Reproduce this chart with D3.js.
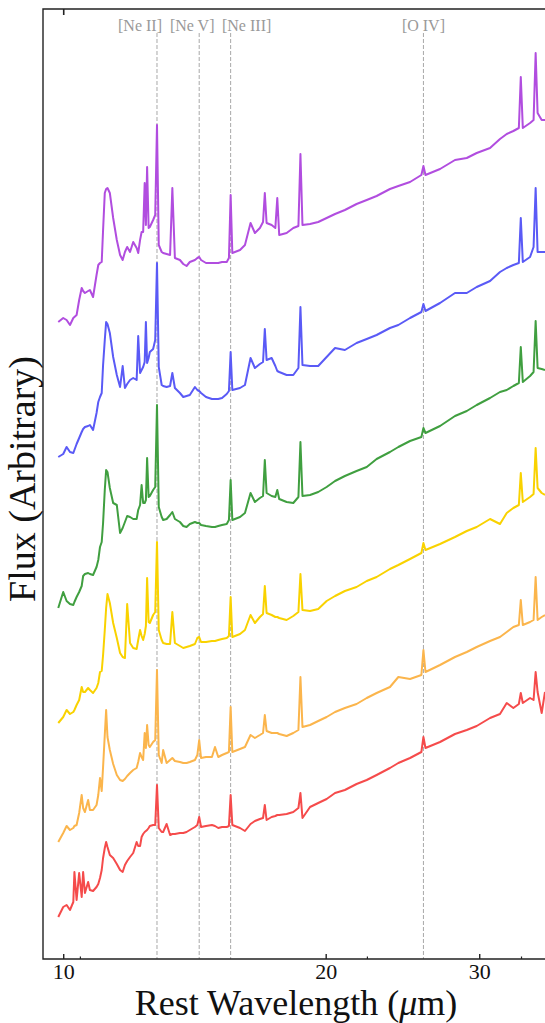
<!DOCTYPE html>
<html>
<head>
<meta charset="utf-8">
<script src="https://cdn.jsdelivr.net/npm/d3@7"></script>
<style>
  body { margin: 0; background: #fff; }
  svg { display: block; }
</style>
</head>
<body>
<div id="chart-area"></div>
<script>
// rest wavelength grid (micron), shared by all spectra
var wavelength = [9.87,10.00,10.09,10.18,10.27,10.30,10.36,10.43,10.50,10.54,
    10.59,10.68,10.73,10.82,10.92,10.97,11.02,11.07,11.11,11.16,
    11.20,11.24,11.31,11.41,11.52,11.62,11.70,11.77,11.84,11.93,
    12.03,12.14,12.19,12.25,12.30,12.35,12.40,12.44,12.48,12.53,
    12.57,12.68,12.75,12.81,12.87,12.97,13.02,13.14,13.26,13.34,
    13.43,13.61,13.73,13.85,13.97,14.16,14.25,14.32,14.39,14.58,
    14.81,14.93,15.06,15.21,15.40,15.49,15.56,15.63,15.95,16.16,
    16.40,16.59,16.81,16.95,17.03,17.11,17.34,17.51,17.60,17.69,
    18.04,18.36,18.61,18.71,18.81,19.19,19.61,20.05,20.50,21.04,
    21.70,22.29,22.88,23.70,24.23,24.99,25.75,25.89,26.03,27.05,
    28.14,29.03,29.80,30.87,31.69,32.26,32.83,33.31,33.48,33.66,
    34.31,34.63,34.82,35.00,35.38,35.69]

// offset flux, arbitrary units
var purpleFlux = [678,682,680,675,682,683,685,700,712,709,
    707,709,710,703,725,735,737,738,770,807,
    811,812,807,782,760,745,740,748,753,748,
    758,752,747,760,768,768,817,775,833,772,
    773,780,785,875,755,748,747,746,745,812,
    742,740,736,734,738,740,742,743,740,737,
    737,737,737,738,738,742,805,747,750,755,
    777,767,772,778,807,777,775,772,802,765,
    767,772,774,846,775,776,778,782,786,790,
    796,800,804,811,814,818,825,834,825,831,
    840,842,847,852,861,866,869,872,923,872,
    877,880,947,887,880,880]

var blueFlux = [543,546,553,548,547,550,556,562,568,571,
    573,574,575,570,587,598,603,607,635,660,
    678,676,667,643,625,613,634,612,616,620,
    622,620,664,627,630,633,638,678,637,642,
    648,651,660,737,633,615,614,613,614,627,
    612,607,603,604,605,613,610,609,607,603,
    601,601,601,602,606,609,648,610,612,615,
    642,632,636,638,671,640,642,634,629,628,
    625,625,632,693,635,634,634,643,652,650,
    657,661,665,672,675,682,688,696,689,697,
    707,707,713,719,728,732,735,737,782,738,
    743,753,812,748,748,748]

var greenFlux = [392,408,399,396,395,398,403,408,414,424,
    426,427,426,425,433,440,453,458,477,510,
    530,528,512,497,495,467,472,478,484,483,
    481,481,490,495,515,497,497,500,542,503,
    504,510,513,595,493,483,480,481,485,488,
    481,478,474,473,476,478,477,477,475,474,
    473,473,474,475,476,480,520,480,483,487,
    507,498,502,504,540,507,504,503,510,501,
    498,497,503,558,504,505,508,513,519,524,
    529,533,541,548,553,559,563,572,567,574,
    584,589,595,602,608,610,614,617,653,618,
    624,628,679,632,631,630]

var goldFlux = [277,283,290,286,288,290,295,300,313,308,
    308,312,310,307,312,317,328,329,345,370,
    392,406,397,377,362,347,343,342,396,357,
    352,351,360,370,364,360,366,374,422,378,
    377,385,388,458,370,360,357,356,356,388,
    357,354,352,353,354,356,362,363,358,358,
    359,359,360,361,362,364,403,363,366,370,
    385,377,383,386,414,387,385,383,383,382,
    380,384,388,426,390,389,391,399,404,409,
    413,419,423,431,435,441,447,457,450,456,
    463,469,473,481,476,487,492,495,527,498,
    503,506,552,512,507,505]

var orangeFlux = [158,167,174,170,172,174,175,187,205,192,
    188,200,190,190,195,205,222,209,233,265,
    290,263,250,236,225,220,219,221,224,227,
    230,232,238,247,243,240,267,252,275,255,
    253,258,260,330,245,237,250,237,240,242,
    239,238,237,237,238,240,245,260,242,243,
    243,253,243,245,247,248,293,248,251,253,
    265,262,265,267,285,269,267,267,267,266,
    264,267,270,323,273,275,279,283,288,292,
    296,302,307,313,323,321,325,350,328,335,
    343,348,353,359,363,368,373,375,400,375,
    378,380,423,380,383,385]

var redFlux = [83,93,95,90,98,128,100,127,103,128,
    107,118,110,109,113,116,122,130,142,152,
    158,153,145,142,136,130,128,135,139,143,
    147,158,154,154,163,166,168,169,170,172,
    174,175,175,215,172,168,168,176,165,166,
    166,167,167,168,170,173,175,183,173,174,
    175,174,172,173,173,174,205,175,172,169,
    176,179,181,182,195,180,183,184,185,185,
    186,188,192,207,182,193,197,201,207,210,
    216,220,225,232,237,242,248,263,252,258,
    266,270,274,282,286,297,292,296,307,297,
    302,300,328,308,287,308]

var xTicks = [10, 20, 30]
var xMinorTicks = [10.45, 22.3, 33.5]
var xTopTicks = [10]

var lineNames = ['[Ne II]', '[Ne V]', '[Ne III]', '[O IV]']
var lineWaves = [12.81, 14.32, 15.56, 25.89]

// styling / layout
var spectra = [redFlux, orangeFlux, goldFlux, greenFlux, blueFlux, purpleFlux]
var colors = ['#f54b4b', '#fbb54c', '#f9d200', '#409f40', '#5a5af6', '#b14ddf']
var labelShift = [-17, -7, 16, 0]
var serif = '"Liberation Serif", "DejaVu Serif", serif'

var W = 545, H = 1023
var plotLeft = 43, plotRight = 549, plotTop = 9, plotBottom = 959

var svg = d3.select('#chart-area').append('svg')
    .attr('width', W)
    .attr('height', H)

var x = d3.scaleLog()
    .domain([9.48, 36.07])
    .range([plotLeft, plotRight])

var y = d3.scaleLinear()
    .domain([41, 991])
    .range([plotBottom, plotTop])

svg.append('clipPath').attr('id', 'plot-clip')
    .append('rect')
    .attr('x', plotLeft).attr('y', plotTop)
    .attr('width', plotRight - plotLeft).attr('height', plotBottom - plotTop)

// emission line markers
svg.selectAll('.marker')
    .data(lineWaves)
    .enter()
    .append('line')
    .attr('class', 'marker')
    .attr('x1', d => x(d))
    .attr('x2', d => x(d))
    .attr('y1', 33)
    .attr('y2', plotBottom)
    .attr('stroke', '#a8a8a8')
    .attr('stroke-width', 1)
    .attr('stroke-dasharray', '4,2')

svg.selectAll('.marker-label')
    .data(lineNames)
    .enter()
    .append('text')
    .attr('class', 'marker-label')
    .attr('x', (d, i) => x(lineWaves[i]) + labelShift[i])
    .attr('y', 31)
    .attr('text-anchor', 'middle')
    .attr('font-family', serif)
    .attr('font-size', 16)
    .attr('fill', '#999')
    .text(d => d)

// spectra
var line = d3.line()
    .x((d, i) => x(wavelength[i]))
    .y(d => y(d))

svg.append('g')
    .attr('clip-path', 'url(#plot-clip)')
    .selectAll('path')
    .data(spectra)
    .enter()
    .append('path')
    .attr('d', d => line(d))
    .attr('fill', 'none')
    .attr('stroke', (d, i) => colors[i])
    .attr('stroke-width', 2)
    .attr('stroke-linejoin', 'round')

// frame
svg.append('path')
    .attr('d', 'M' + plotRight + ',' + plotTop + 'H' + plotLeft + 'V' + plotBottom + 'H' + plotRight)
    .attr('fill', 'none')
    .attr('stroke', '#222')
    .attr('stroke-width', 1.4)

// ticks
var xAxis = svg.append('g')
    .attr('transform', 'translate(0,' + plotBottom + ')')
    .call(d3.axisBottom(x)
        .tickValues(xTicks)
        .tickFormat(d3.format('d'))
        .tickSizeInner(-5)
        .tickSizeOuter(0)
        .tickPadding(4))
xAxis.select('.domain').remove()
xAxis.selectAll('line').attr('stroke', '#222').attr('stroke-width', 1.4)
xAxis.selectAll('text')
    .attr('font-family', serif)
    .attr('font-size', 22)
    .attr('fill', '#111')

var xMinor = svg.append('g')
    .attr('transform', 'translate(0,' + plotBottom + ')')
    .call(d3.axisBottom(x)
        .tickValues(xMinorTicks)
        .tickFormat('')
        .tickSizeInner(-2.5)
        .tickSizeOuter(0))
xMinor.select('.domain').remove()
xMinor.selectAll('line').attr('stroke', '#222').attr('stroke-width', 1.2)

var xTop = svg.append('g')
    .attr('transform', 'translate(0,' + plotTop + ')')
    .call(d3.axisTop(x)
        .tickValues(xTopTicks)
        .tickFormat('')
        .tickSizeInner(-6)
        .tickSizeOuter(0))
xTop.select('.domain').remove()
xTop.selectAll('line').attr('stroke', '#222').attr('stroke-width', 1.6)

// axis titles
var xTitle = svg.append('text')
    .attr('x', (plotLeft + plotRight) / 2)
    .attr('y', 1015)
    .attr('text-anchor', 'middle')
    .attr('font-family', serif)
    .attr('font-size', 36)
    .attr('fill', '#111')
xTitle.append('tspan').text('Rest Wavelength (')
xTitle.append('tspan').attr('font-style', 'italic').text('\u03bc')
xTitle.append('tspan').text('m)')

svg.append('text')
    .attr('transform', 'translate(35,479) rotate(-90)')
    .attr('text-anchor', 'middle')
    .attr('font-family', serif)
    .attr('font-size', 38)
    .attr('fill', '#111')
    .text('Flux (Arbitrary)')
</script>
</body>
</html>
